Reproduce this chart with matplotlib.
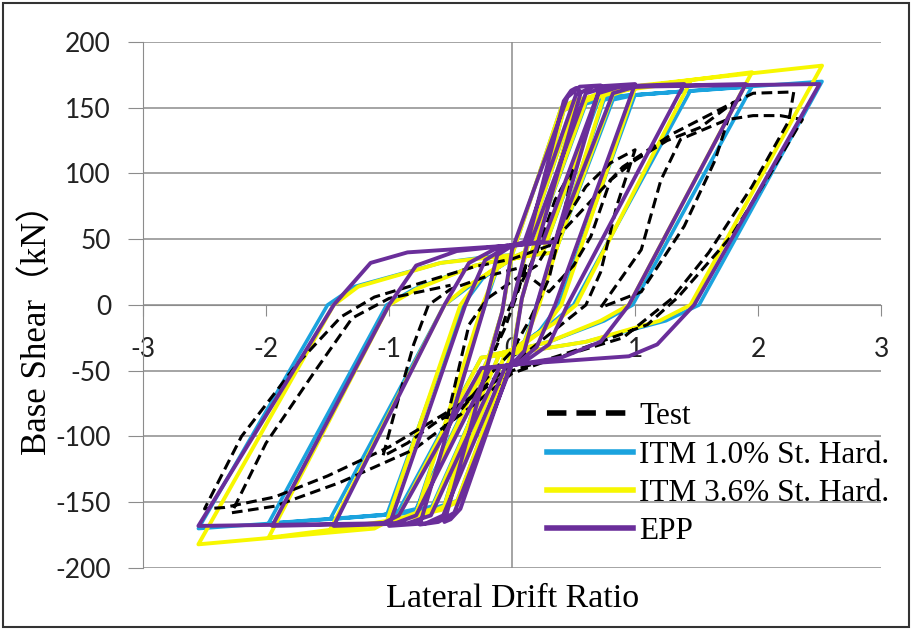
import numpy as np
import matplotlib
matplotlib.use("Agg")
import matplotlib.pyplot as plt
from matplotlib.patches import Rectangle

# hysteresis paths: (drift ratio, base shear kN)
test_pts = [
    (0, 0), (0.06, 18), (0.12, 32), (0.04, 8), (-0.06, -18), (-0.14, -34), (-0.05, -8), (0.05, 12),
    (0.2, 40), (0.35, 80), (0.5, 105), (0.4, 60), (0.3, 20), (0.15, -10), (0.0, -35),
    (-0.2, -55), (-0.4, -78), (-0.55, -95), (-0.45, -55), (-0.35, -15), (-0.2, 5), (0.0, 18),
    (0.2, 30), (0.4, 60), (0.6, 90), (0.8, 108), (1.0, 118), (0.85, 75), (0.72, 25), (0.6, 0),
    (0.4, -15), (0.2, -30), (0.0, -45), (-0.2, -60), (-0.45, -80), (-0.63, -90), (-0.85, -105),
    (-1.05, -115), (-0.95, -80), (-0.8, -30), (-0.68, 0), (-0.5, 12), (-0.2, 22), (0.05, 28),
    (0.3, 10), (0.5, 30), (0.64, 52), (0.8, 95), (1.0, 110), (1.26, 125), (1.53, 135), (1.8, 154),
    (1.65, 110), (1.4, 60), (1.05, 10), (0.72, -2), (1.05, 42), (1.21, 95), (1.37, 126),
    (1.75, 141), (1.96, 144), (2.18, 144), (2.36, 141), (2.1, 100), (1.78, 52), (1.35, 6),
    (1.1, -15), (0.6, -32), (0.0, -50), (-0.2, -62), (-0.5, -80), (-1.0, -108), (-1.5, -130),
    (-1.93, -146), (-2.34, -154), (-2.5, -155), (-2.2, -100), (-1.74, -44), (-1.39, -9),
    (-1.12, 6), (-0.31, 29), (0.0, 35), (0.3, 45), (0.6, 75), (0.9, 105), (1.3, 130),
    (1.8, 154), (1.96, 161), (2.29, 162), (2.25, 140), (1.95, 90), (1.6, 40), (1.3, 5),
    (0.9, -25), (0.3, -42), (0.0, -52), (-0.3, -75), (-0.8, -110), (-1.4, -135),
    (-1.93, -153), (-2.28, -158), (-2.0, -105), (-1.6, -50), (-1.3, -10), (-1.0, 5), (-0.5, 15),
]

itm10_pts = [
    (0, 0), (0.12, 42), (0.42, 148), (0.52, 152), (0.08, 5), (0.0, -38),
    (-0.42, -148), (-0.55, -152), (-0.08, -5), (0.0, 38),
    (0.4, 150), (0.5, 155), (0.75, 157), (0.2, 0), (0.1, -28), (0.0, -36),
    (-0.45, -150), (-0.58, -155), (-0.78, -157), (-0.22, 0), (-0.12, 28), (0.0, 36),
    (0.1, 40), (0.5, 152), (0.68, 157), (1.0, 160), (0.38, 0), (0.22, -20), (0.05, -33),
    (-0.05, -36), (-0.55, -152), (-0.72, -157), (-1.02, -160), (-0.4, 0), (-0.24, 20), (-0.05, 34),
    (0.15, 38), (0.6, 153), (0.8, 158), (1.45, 163), (0.5, 0), (0.32, -14), (0.0, -34),
    (-0.1, -37), (-0.65, -153), (-0.87, -158), (-1.48, -163), (-0.55, 0), (-0.35, 14), (0.0, 35),
    (0.25, 40), (0.7, 155), (0.9, 159), (1.95, 166), (0.98, 0), (0.75, -12), (0.3, -28), (0.0, -35),
    (-0.18, -38), (-0.78, -155), (-0.97, -159), (-1.98, -166), (-1.02, 0), (-0.8, 12), (-0.3, 30), (0.0, 36),
    (0.35, 40), (0.82, 156), (1.02, 160), (2.52, 170), (1.52, 0), (1.25, -12), (0.6, -28), (0.0, -37),
    (-0.25, -40), (-0.92, -156), (-1.06, -160), (-2.55, -170), (-1.5, 0), (-1.28, 14),
    (-0.58, 32), (-0.17, 37), (0.0, 38),
]

itm36_pts = [
    (0, 0), (0.12, 42), (0.42, 148), (0.52, 153), (0.08, 5), (0.0, -38),
    (-0.42, -148), (-0.55, -153), (-0.08, -5), (0.0, 38),
    (0.4, 150), (0.52, 156), (0.75, 160), (0.22, 0), (0.1, -28), (0.0, -36),
    (-0.45, -150), (-0.58, -156), (-0.78, -160), (-0.24, 0), (-0.12, 28), (0.0, 36),
    (0.1, 40), (0.5, 153), (0.68, 160), (1.0, 165), (0.4, 0), (0.24, -20), (0.05, -33),
    (-0.05, -36), (-0.55, -153), (-0.72, -160), (-1.02, -165), (-0.42, 0), (-0.26, 20), (-0.05, 34),
    (0.15, 38), (0.6, 155), (0.8, 162), (1.45, 170), (0.52, 0), (0.34, -14), (0.0, -34),
    (-0.1, -37), (-0.65, -155), (-0.87, -162), (-1.48, -171), (-0.55, 0), (-0.37, 14), (0.0, 35),
    (0.25, 40), (0.7, 158), (0.95, 165), (1.95, 177), (0.95, 0), (0.72, -12), (0.3, -28), (0.0, -35),
    (-0.18, -38), (-0.78, -158), (-0.98, -165), (-1.98, -177), (-1.0, 0), (-0.78, 12), (-0.3, 30), (0.0, 36),
    (0.35, 40), (0.82, 160), (1.05, 167), (2.52, 182), (1.45, 0), (1.2, -12), (0.6, -28), (0.0, -37),
    (-0.25, -40), (-0.92, -160), (-1.12, -170), (-2.55, -182), (-1.45, 0), (-1.25, 14),
    (-0.58, 32), (0.0, 38),
]

epp_pts = [
    (0, 0), (0.12, 45), (0.42, 155), (0.48, 163), (0.52, 165), (0.56, 162), (0.08, 5), (0.0, -42),
    (-0.42, -155), (-0.5, -163), (-0.55, -165), (-0.08, -5), (0.0, 42),
    (0.45, 158), (0.55, 166), (0.72, 167), (0.2, 0), (0.1, -35), (0.0, -45),
    (-0.47, -158), (-0.6, -165), (-0.75, -167), (-0.22, 0), (-0.12, 38), (0.0, 45),
    (0.1, 48), (0.52, 160), (0.66, 166), (1.0, 168), (0.35, 0), (0.2, -32), (0.05, -44),
    (-0.05, -46), (-0.56, -160), (-0.7, -166), (-1.0, -168), (-0.38, 0), (-0.22, 34), (-0.05, 44),
    (0.15, 47), (0.6, 161), (0.78, 166), (1.4, 168), (0.45, 0), (0.3, -30), (0.15, -40), (0.05, -45),
    (-0.1, -47), (-0.66, -160), (-0.85, -166), (-1.45, -168), (-0.55, 0), (-0.35, 32), (-0.15, 42), (-0.05, 45),
    (0.25, 48), (0.7, 161), (0.88, 166), (1.9, 168), (0.95, 0), (0.72, -28), (0.4, -40), (0.05, -45),
    (-0.18, -48), (-0.78, -160), (-0.95, -166), (-1.95, -168), (-1.0, 0), (-0.78, 30), (-0.45, 41), (-0.05, 45),
    (0.35, 48), (0.82, 161), (1.0, 166), (2.5, 168), (1.48, 0), (1.18, -30), (0.95, -39), (0.05, -45),
    (-0.25, -48), (-0.92, -160), (-1.05, -166), (-2.55, -168), (-1.45, 0), (-1.15, 32), (-0.85, 40), (-0.05, 45),
]

labels = ["Test", "ITM 1.0% St. Hard.", "ITM 3.6% St. Hard.", "EPP"]
x_ticks = [-3, -2, -1, 0, 1, 2, 3]
y_ticks = [-200, -150, -100, -50, 0, 50, 100, 150, 200]

plt.rcParams['font.family'] = ['Liberation Serif', 'Noto Sans CJK SC', 'DejaVu Sans']
plt.rcParams['axes.unicode_minus'] = False

fig = plt.figure(figsize=(9.14, 6.30), dpi=100)
ax = fig.add_axes([0.1565, 0.0984, 0.8075, 0.835])

test = np.array(test_pts)
itm10 = np.array(itm10_pts)
itm36 = np.array(itm36_pts)
epp = np.array(epp_pts)

ln_blue, = ax.plot(itm10[:, 0], itm10[:, 1], color='#1ba3de', lw=2.6, zorder=3, solid_joinstyle='round')
ln_yel, = ax.plot(itm36[:, 0], itm36[:, 1], color='#f7f700', lw=2.8, zorder=4, solid_joinstyle='round')
ln_test, = ax.plot(test[:, 0], test[:, 1], color='black', lw=2.2, ls=(0, (3.5, 1.8)), zorder=5)
ln_epp, = ax.plot(epp[:, 0], epp[:, 1], color='#6a2e9a', lw=2.8, zorder=6, solid_joinstyle='round')

ax.set_xlim(-3, 3)
ax.set_ylim(-200, 200)
ax.set_xticks(x_ticks)
ax.set_yticks(y_ticks)
ax.grid(axis='y', color='#8c8c8c', lw=1.1)
ax.set_axisbelow(True)
ax.axvline(0, color='#8c8c8c', lw=1.1, zorder=1)

for s in ['top', 'right']:
    ax.spines[s].set_visible(False)
ax.spines['left'].set_color('#8c8c8c')
ax.spines['bottom'].set_color('#8c8c8c')
ax.spines['bottom'].set_position(('data', 0))
ax.spines['bottom'].set_zorder(1)
ax.tick_params(axis='x', direction='out', length=8, color='#8c8c8c', labelsize=19, pad=15)
ax.tick_params(axis='y', direction='out', length=11, color='#8c8c8c', labelsize=19, pad=12)
for lbl in ax.get_xticklabels() + ax.get_yticklabels():
    lbl.set_family('Lato')
    lbl.set_color('#222222')

ax.set_xlabel("Lateral Drift Ratio", fontsize=24.5, labelpad=0)
ax.xaxis.set_label_coords(0.5, -0.03)
ax.set_ylabel("Base Shear（kN）", fontsize=25)
ax.yaxis.set_label_coords(-0.12, 0.47)

leg = ax.legend([ln_test, ln_blue, ln_yel, ln_epp], labels, loc='upper left',
                bbox_to_anchor=(0.547, 0.315), frameon=False, fontsize=22.5,
                handlelength=2.75, handletextpad=0.2, labelspacing=0.3,
                borderaxespad=0, borderpad=0)
for h in leg.get_lines():
    h.set_linewidth(4)

fig.patches.append(Rectangle((0.003, 0.004), 0.992, 0.991, transform=fig.transFigure,
                             fill=False, ec='#333333', lw=1.5))

fig.savefig("out.png", dpi=100)
